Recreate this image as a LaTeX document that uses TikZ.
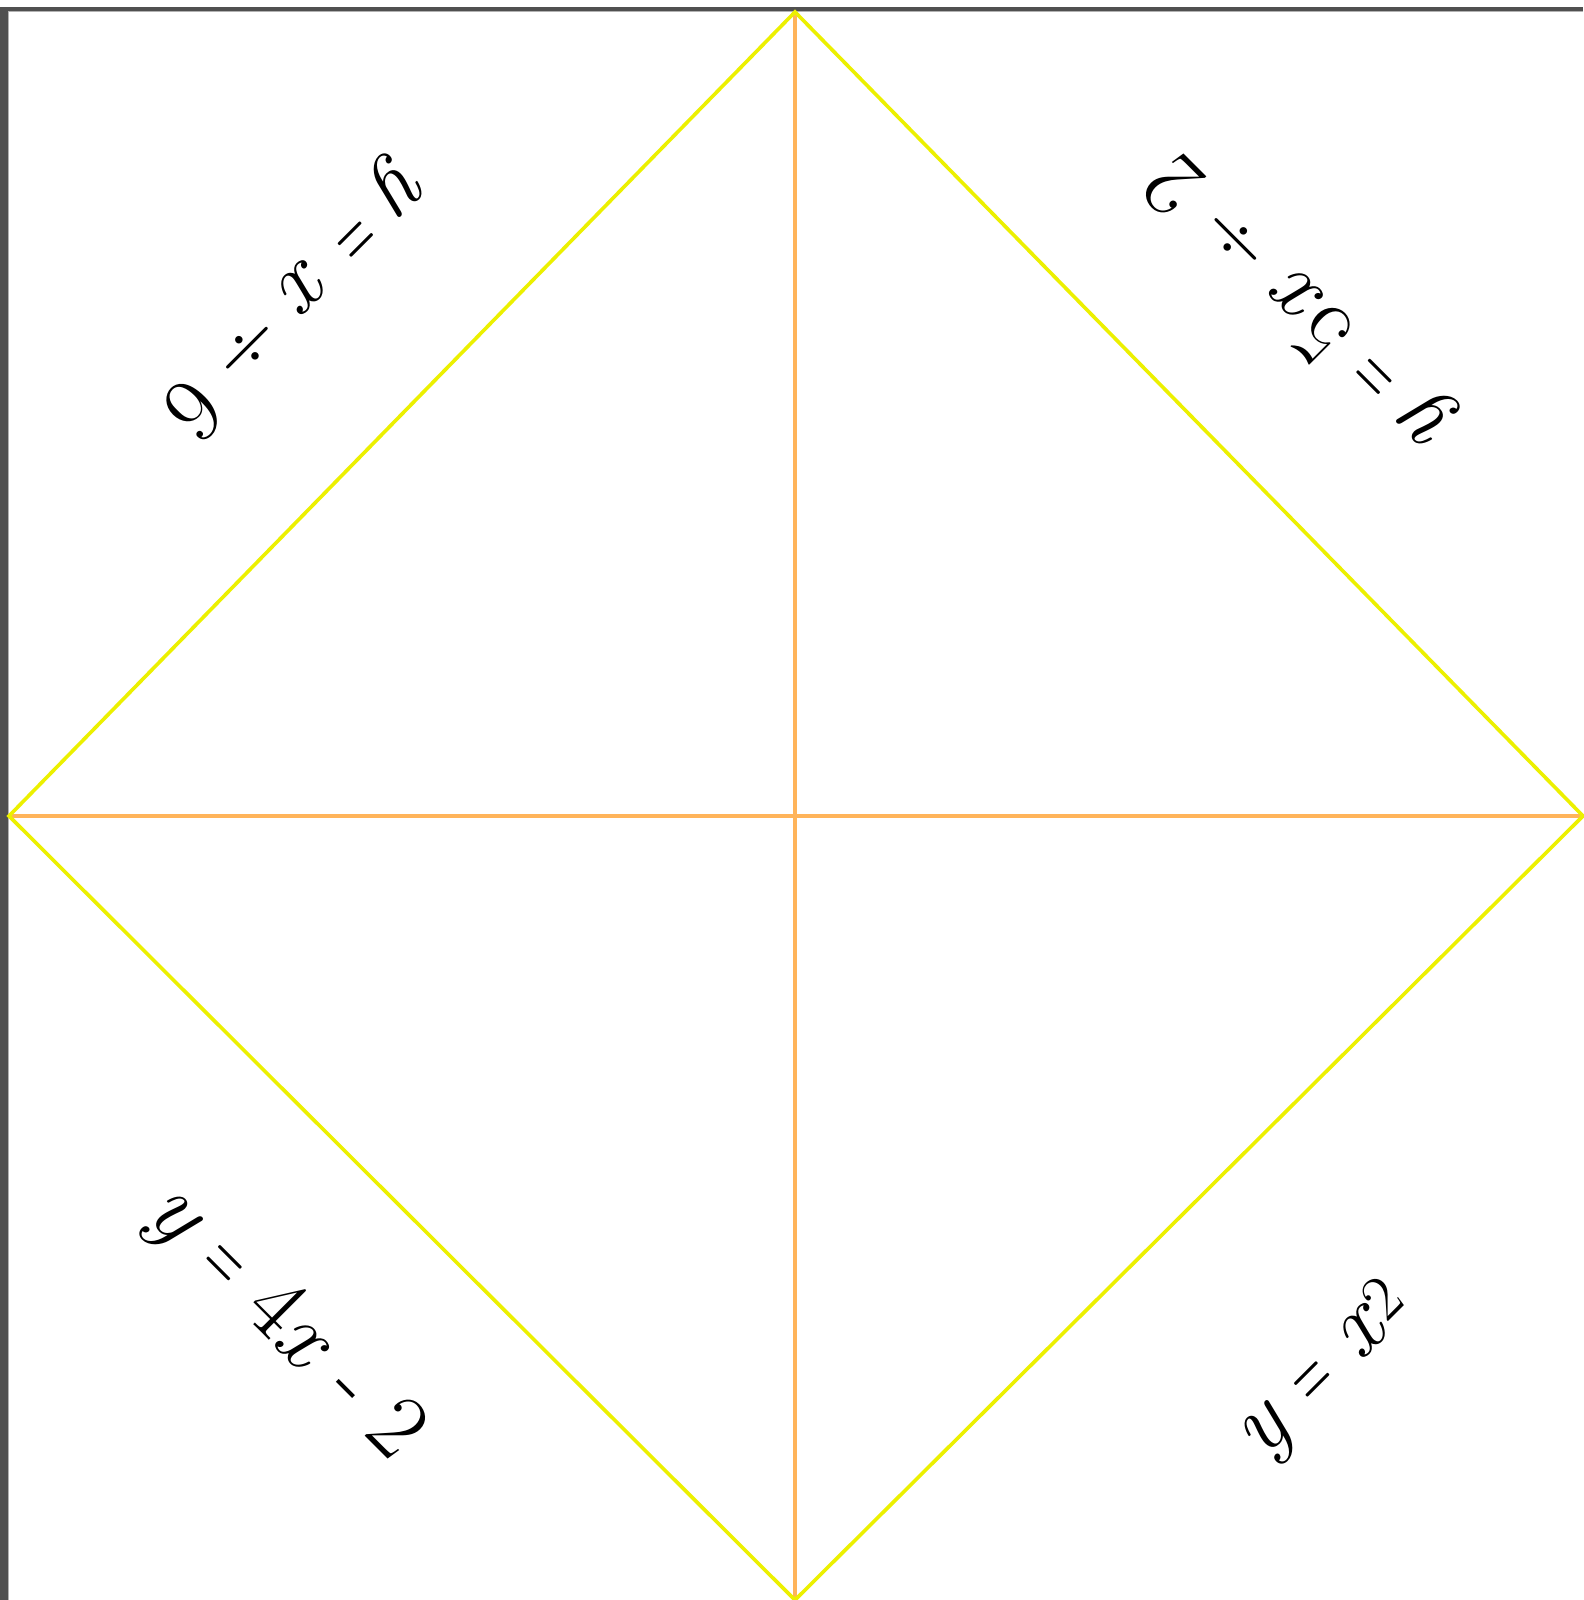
\documentclass[tikz,border=0pt]{standalone}
\newcommand{\vy}{\textit{y}}
\newcommand{\vx}{\textit{x}}
\newcommand{\eqs}{\scalebox{0.55}[1]{=}}
\begin{document}
\begin{tikzpicture}[x=1pt,y=1pt,
  yelline/.style={draw={rgb,255:red,236;green,240;blue,0}, line width=3.6pt},
  orgline/.style={draw={rgb,255:red,255;green,180;blue,90}, line width=4.2pt},
  frametone/.style={fill={rgb,255:red,80;green,80;blue,80}},
  lbl/.style={inner sep=0pt, font=\fontsize{92}{100}\selectfont}]
\useasboundingbox (0,0) rectangle (1583,1600);
\fill[white] (0,0) rectangle (1583,1600);
% frame
\fill[frametone] (0,0) rectangle (8,1593);
\fill[frametone] (0,1589) rectangle (1583,1593);
\fill[gray!60] (8,0) rectangle (9.2,1589);
\fill[gray!60] (8,1588) rectangle (1583,1589.2);
% vertices
\coordinate (T) at (795,1588);
\coordinate (B) at (795,0);
\coordinate (L) at (9,784);
\coordinate (R) at (1583,784);
% cross
\draw[orgline] (T) -- (B);
\draw[orgline] (L) -- (R);
% diamond
\draw[yelline, line join=miter] (T) -- (R) -- (B) -- (L) -- cycle;
% labels
\node[lbl, rotate=-135] (tl) at (296,1304) {\vy\ \eqs\ \vx\ ÷ 6};
\node[lbl, rotate=135] (tr) at (1303,1297) {\vy\ \eqs\ 5\vx\ ÷ 2};
\node[lbl, rotate=-45] (bl) at (283,276) {\vy\ \eqs\ 4\vx\ - 2};
\node[lbl, rotate=45] (br) at (1327,227) {\vy\ \eqs\ \vx\textsuperscript{2}};
\end{tikzpicture}
\end{document}
